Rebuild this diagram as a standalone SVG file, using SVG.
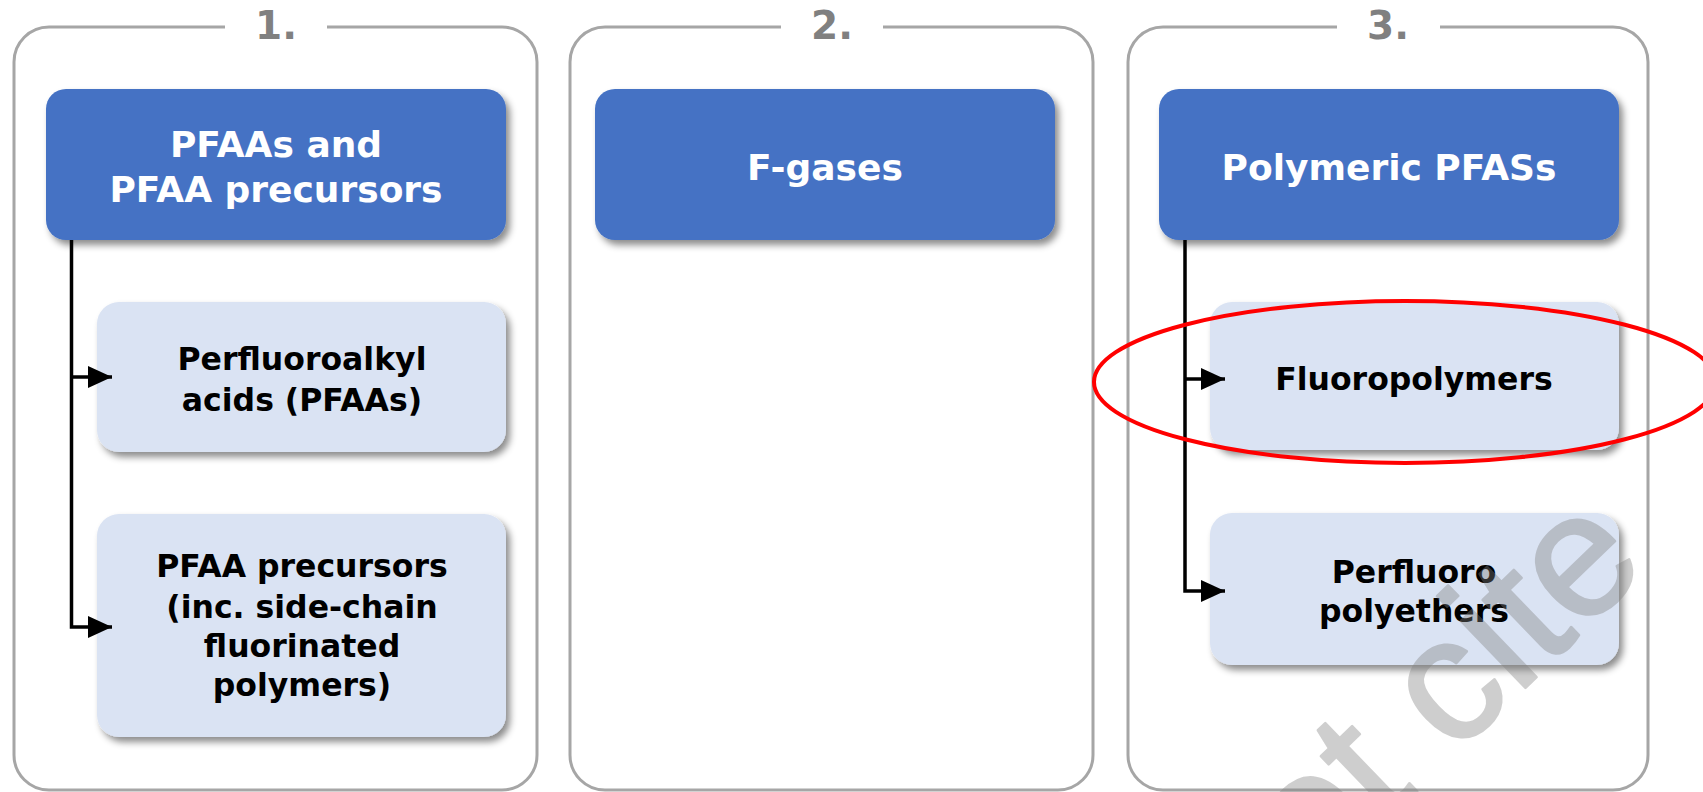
<svg xmlns="http://www.w3.org/2000/svg" width="1703" height="792" viewBox="0 0 1703 792">
<defs>
<style>
.panel{fill:#ffffff;stroke:#a6a6a6;stroke-width:3}
.num{font-family:"DejaVu Sans","Verdana",sans-serif;font-weight:bold;font-size:39px;fill:#808080;text-anchor:middle}
.main{fill:#4472c4}
.sub{fill:#dae3f3}
.mt{font-family:"DejaVu Sans","Verdana",sans-serif;font-weight:bold;font-size:36px;fill:#ffffff;text-anchor:middle}
.st{font-family:"DejaVu Sans","Verdana",sans-serif;font-weight:bold;font-size:31.5px;fill:#000000;text-anchor:middle}
.conn{fill:none;stroke:#000000;stroke-width:3.5}
.wm{font-family:"Liberation Sans","Arial",sans-serif;font-size:176px;fill:#808080;stroke:#808080;stroke-width:2.5;stroke-linejoin:round}
</style>
<filter id="sh" x="-10%" y="-10%" width="125%" height="130%">
<feDropShadow dx="4" dy="5" stdDeviation="3.5" flood-color="#000000" flood-opacity="0.45"/>
</filter>
<marker id="ah" markerUnits="userSpaceOnUse" markerWidth="24" markerHeight="22" refX="24" refY="11" orient="auto">
<path d="M0,0 L24,11 L0,22 Z" fill="#000000"/>
</marker>
</defs>
<g id="panel1">
<path class="panel" d="M327,27 H502 A35,35 0 0 1 537,62 V755 A35,35 0 0 1 502,790 H49 A35,35 0 0 1 14,755 V62 A35,35 0 0 1 49,27 H225"/>
<text class="num" x="276" y="39">1.</text>
</g>
<g id="panel2">
<path class="panel" d="M883,27 H1058 A35,35 0 0 1 1093,62 V755 A35,35 0 0 1 1058,790 H605 A35,35 0 0 1 570,755 V62 A35,35 0 0 1 605,27 H781"/>
<text class="num" x="832" y="39">2.</text>
</g>
<g id="panel3">
<path class="panel" d="M1440,27 H1613 A35,35 0 0 1 1648,62 V755 A35,35 0 0 1 1613,790 H1163 A35,35 0 0 1 1128,755 V62 A35,35 0 0 1 1163,27 H1337"/>
<text class="num" x="1388" y="39">3.</text>
</g>
<g id="pfaas">
<rect class="main" x="46" y="89" width="460" height="151" rx="20" filter="url(#sh)"/>
<text class="mt" x="276" y="157">PFAAs and</text>
<text class="mt" x="276" y="202">PFAA precursors</text>
</g>
<g id="fgases">
<rect class="main" x="595" y="89" width="460" height="151" rx="20" filter="url(#sh)"/>
<text class="mt" x="825" y="180">F-gases</text>
</g>
<g id="polymeric">
<rect class="main" x="1159" y="89" width="460" height="151" rx="20" filter="url(#sh)"/>
<text class="mt" x="1389" y="180">Polymeric PFASs</text>
</g>
<g id="pfaa-acids">
<rect class="sub" x="97" y="302" width="409" height="150" rx="22" filter="url(#sh)"/>
<text class="st" x="302" y="370">Perfluoroalkyl</text>
<text class="st" x="302" y="411">acids (PFAAs)</text>
</g>
<g id="pfaa-precursors">
<rect class="sub" x="97" y="514" width="409" height="223" rx="22" filter="url(#sh)"/>
<text class="st" x="302" y="577">PFAA precursors</text>
<text class="st" x="302" y="618">(inc. side-chain</text>
<text class="st" x="302" y="657">fluorinated</text>
<text class="st" x="302" y="696">polymers)</text>
</g>
<g id="fluoropolymers">
<rect class="sub" x="1210" y="302" width="409" height="148" rx="22" filter="url(#sh)"/>
<text class="st" x="1414" y="390">Fluoropolymers</text>
</g>
<g id="pfpe">
<rect class="sub" x="1210" y="513" width="409" height="152" rx="22" filter="url(#sh)"/>
<text class="st" x="1414" y="583">Perfluoro</text>
<text class="st" x="1414" y="622">polyethers</text>
</g>
<g id="connectors">
<path class="conn" d="M71.5,240 V627 H112" marker-end="url(#ah)"/>
<path class="conn" d="M71.5,377 H112" marker-end="url(#ah)"/>
<path class="conn" d="M1185,240 V591 H1225" marker-end="url(#ah)"/>
<path class="conn" d="M1185,379 H1225" marker-end="url(#ah)"/>
</g>
<g id="highlight">
<ellipse cx="1405" cy="382" rx="311" ry="81" fill="none" stroke="#ff0000" stroke-width="4"/>
</g>
<g id="watermark" opacity="0.38">
<text class="wm" transform="translate(1313,893) rotate(-44)">ot cite</text>
</g>
</svg>
